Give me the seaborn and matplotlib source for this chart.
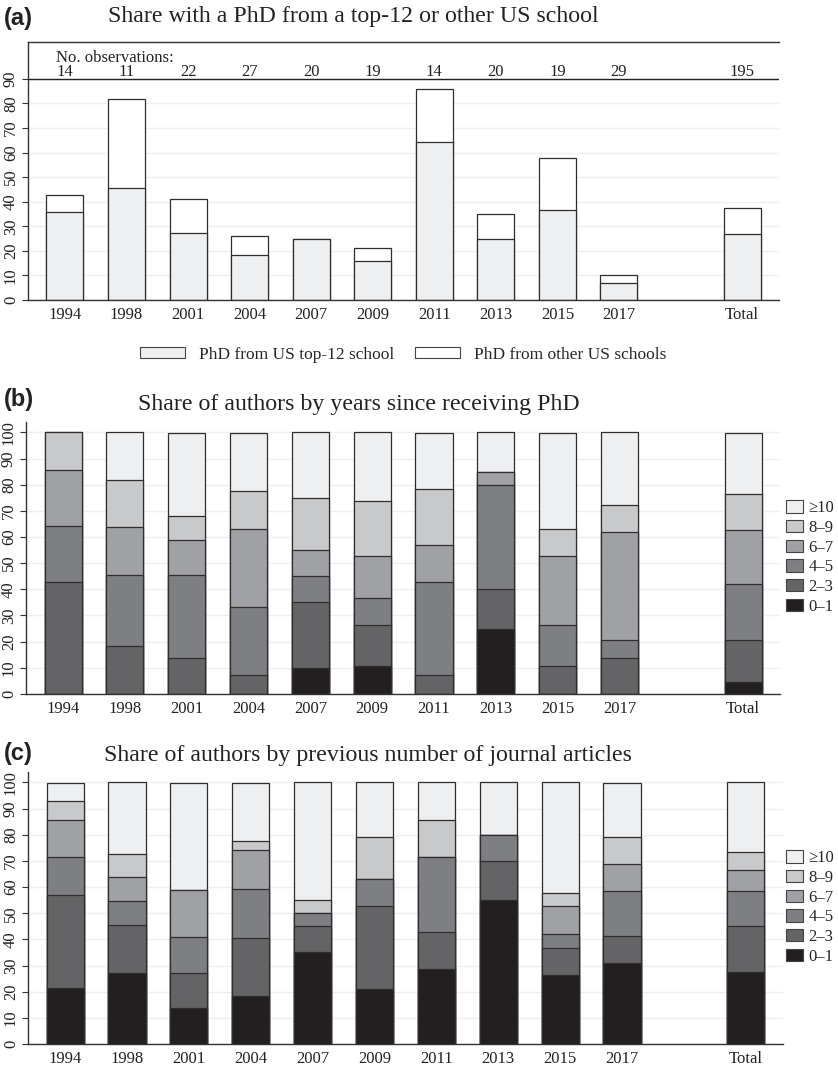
import matplotlib
matplotlib.use("Agg")
import matplotlib.pyplot as plt
from matplotlib.patches import Patch
import seaborn as sns

# ---------------------------------------------------------------- data
years = ["1994", "1998", "2001", "2004", "2007", "2009",
         "2011", "2013", "2015", "2017"]
groups = years + ["Total"]
slot_order = years + [" ", "Total"]          # blank slot before the total column
n_obs = [14, 11, 22, 27, 20, 19, 14, 20, 19, 29, 195]

# (a) share of authors with a US PhD (%)
top12_share = [35.7, 45.5, 27.3, 18.5, 25.0, 15.8, 64.3, 25.0, 36.8, 6.9, 26.7]
other_us_share = [7.1, 36.4, 13.6, 7.4, 0.0, 5.3, 21.4, 10.0, 21.1, 3.4, 10.8]

bins = ["0–1", "2–3", "4–5", "6–7", "8–9", "≥10"]
bin_colors = ["#231f20", "#646466", "#7e7f82", "#a0a1a4", "#c8c9cb", "#eeeff1"]

# (b) years since receiving PhD (%)
since_phd_0_1 = [0.0, 0.0, 0.0, 0.0, 10.0, 10.5, 0.0, 25.0, 0.0, 0.0, 4.6]
since_phd_2_3 = [42.9, 18.2, 13.6, 7.4, 25.0, 15.8, 7.1, 15.0, 10.5, 13.8, 15.9]
since_phd_4_5 = [21.4, 27.3, 31.8, 25.9, 10.0, 10.5, 35.7, 40.0, 15.8, 6.9, 21.5]
since_phd_6_7 = [21.4, 18.2, 13.6, 29.6, 10.0, 15.8, 14.3, 5.0, 26.3, 41.4, 20.5]
since_phd_8_9 = [14.3, 18.2, 9.1, 14.8, 20.0, 21.1, 21.4, 0.0, 10.5, 10.3, 13.8]
since_phd_10p = [0.0, 18.2, 31.8, 22.2, 25.0, 26.3, 21.4, 15.0, 36.8, 27.6, 23.6]

# (c) previous number of journal articles (%)
articles_0_1 = [21.4, 27.3, 13.6, 18.5, 35.0, 21.1, 28.6, 55.0, 26.3, 31.0, 27.7]
articles_2_3 = [35.7, 18.2, 13.6, 22.2, 10.0, 31.6, 14.3, 15.0, 10.5, 10.3, 17.4]
articles_4_5 = [14.3, 9.1, 13.6, 18.5, 5.0, 10.5, 28.6, 10.0, 5.3, 17.2, 13.3]
articles_6_7 = [14.3, 9.1, 18.2, 14.8, 0.0, 0.0, 0.0, 0.0, 10.5, 10.3, 8.2]
articles_8_9 = [7.1, 9.1, 0.0, 3.7, 5.0, 15.8, 14.3, 0.0, 5.3, 10.3, 6.7]
articles_10p = [7.1, 27.3, 40.9, 22.2, 45.0, 21.1, 14.3, 20.0, 42.1, 20.7, 26.7]

# ---------------------------------------------------------------- style
sns.set_theme(style="white")
plt.rcParams["font.family"] = ["Liberation Serif", "DejaVu Serif"]

EDGE = "#2e2e2e"
AXC = "#333333"
TXT = "#222222"
BAR_W = 0.6

fig = plt.figure(figsize=(8.38, 10.65), dpi=100)
ax_a = fig.add_axes([0.0334, 0.7183, 0.8962, 0.2423])
ax_b = fig.add_axes([0.0310, 0.3484, 0.9000, 0.2554])
ax_c = fig.add_axes([0.0334, 0.0197, 0.9009, 0.2554])


def stacked(ax, layers, colors):
    """Draw stacked bars by overplotting cumulative totals from the top down."""
    run = [0.0] * len(groups)
    cumulative = []
    for layer in layers:
        run = [r + v for r, v in zip(run, layer)]
        cumulative.append(run)
    for heights, col in reversed(list(zip(cumulative, colors))):
        sns.barplot(x=groups, y=heights, order=slot_order, color=col,
                    saturation=1, width=BAR_W, edgecolor=EDGE, linewidth=0.9,
                    errorbar=None, ax=ax)


def style_axes(ax, ymax, ticks):
    ax.set_xlim(-0.6, 11.6)
    ax.set_ylim(0, ymax)
    ax.set_yticks(ticks)
    ax.set_yticklabels([str(t) for t in ticks])
    ax.set_xlabel("")
    ax.set_ylabel("")
    ax.grid(axis="y", color="#efefef", lw=1.0)
    ax.grid(axis="x", visible=False)
    ax.set_axisbelow(True)
    ax.tick_params(axis="y", left=True, length=4.5, width=0.8, color=AXC,
                   pad=2, labelsize=12, labelcolor=TXT)
    ax.tick_params(axis="x", bottom=False, length=0, pad=5, labelsize=12,
                   labelcolor=TXT)
    for lab in ax.get_yticklabels():
        lab.set_rotation(90)
        lab.set_va("center")
    for s in ("right", "top"):
        ax.spines[s].set_visible(False)
    for s in ("left", "bottom"):
        ax.spines[s].set_color(AXC)
        ax.spines[s].set_linewidth(1.0)


# ---------------------------------------------------------------- (a)
stacked(ax_a, [top12_share, other_us_share], [bin_colors[-1], "white"])
style_axes(ax_a, 105, list(range(0, 100, 10)))
ax_a.spines["top"].set_visible(True)
ax_a.spines["top"].set_color(AXC)
ax_a.spines["top"].set_linewidth(1.0)
ax_a.axhline(90, color=TXT, lw=1.0, zorder=3)
ax_a.text(-0.15, 97.0, "No. observations:", ha="left", va="baseline",
          fontsize=12, color=TXT)
for i, n in enumerate(n_obs):
    pos = i if i < len(years) else i + 1
    ax_a.text(pos, 91.0, str(n), ha="center", va="baseline",
              fontsize=12, color=TXT)

fig.legend(handles=[Patch(fc=bin_colors[-1], ec="#444444", lw=0.8,
                          label="PhD from US top-12 school"),
                    Patch(fc="white", ec="#444444", lw=0.8,
                          label="PhD from other US schools")],
           loc="center", bbox_to_anchor=(0.481, 0.6667), ncol=2,
           frameon=False, fontsize=12.5, handlelength=2.6, handleheight=0.6,
           handletextpad=0.8, columnspacing=1.2, borderpad=0)

# ---------------------------------------------------------------- (b)
stacked(ax_b, [since_phd_0_1, since_phd_2_3, since_phd_4_5,
               since_phd_6_7, since_phd_8_9, since_phd_10p], bin_colors)
style_axes(ax_b, 104, list(range(0, 101, 10)))

# ---------------------------------------------------------------- (c)
stacked(ax_c, [articles_0_1, articles_2_3, articles_4_5,
               articles_6_7, articles_8_9, articles_10p], bin_colors)
style_axes(ax_c, 104, list(range(0, 101, 10)))

bin_handles = [Patch(fc=c, ec="#444444", lw=0.8, label=b)
               for b, c in zip(bins, bin_colors)][::-1]
for y in (0.4765, 0.1479):
    fig.legend(handles=bin_handles, loc="center left",
               bbox_to_anchor=(0.938, y), frameon=False, fontsize=12,
               handlelength=1.0, handleheight=0.75, handletextpad=0.35,
               labelspacing=0.22, borderpad=0, borderaxespad=0)

# ---------------------------------------------------------------- titles
titles = [
    ("(a)", 0.9765, "Share with a PhD from a top-12 or other US school", 0.422, 0.9796),
    ("(b)", 0.6188, "Share of authors by years since receiving PhD", 0.428, 0.6150),
    ("(c)", 0.2864, "Share of authors by previous number of journal articles", 0.439, 0.2854),
]
for tag, tag_y, text, tx, ty in titles:
    fig.text(0.005, tag_y, tag, ha="left", va="baseline", fontsize=17,
             fontweight="bold", family=["Liberation Sans", "DejaVu Sans"],
             color=TXT)
    fig.text(tx, ty, text, ha="center", va="baseline", fontsize=17.2,
             color=TXT)

fig.savefig("out.png", dpi=100)
